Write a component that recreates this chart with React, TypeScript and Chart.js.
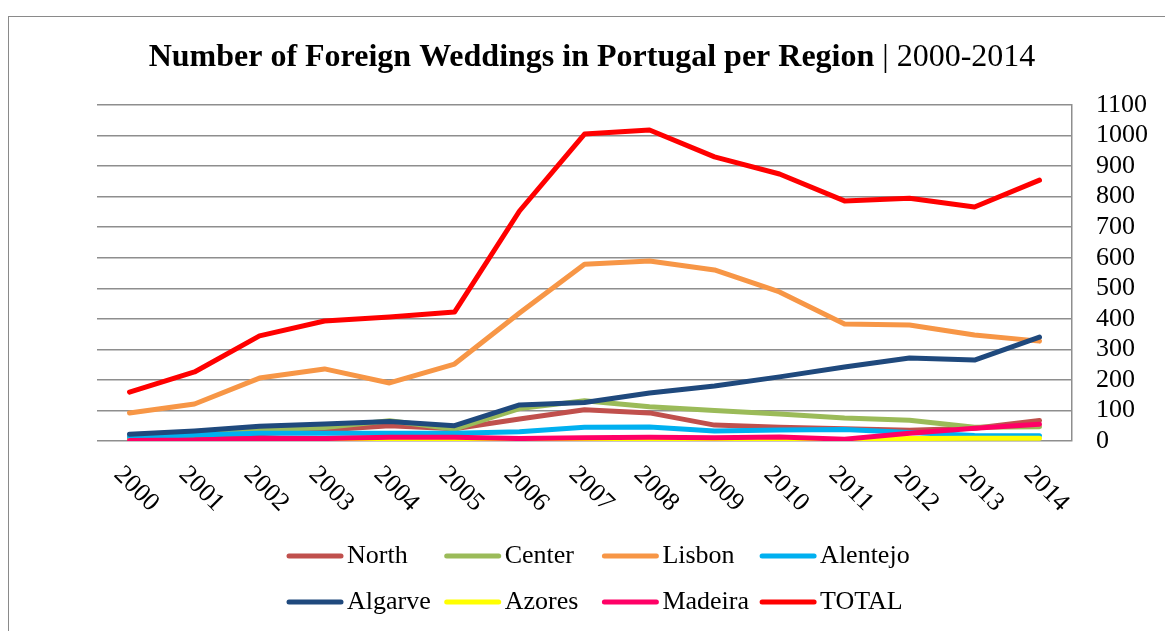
import React, { useEffect, useRef } from "react";
import { Chart, registerables } from "chart.js";

Chart.register(...registerables);

const years = ["2000","2001","2002","2003","2004","2005","2006","2007","2008","2009","2010","2011","2012","2013","2014"];
const north = [6, 12, 24, 36, 50, 40, 72, 102, 92, 52, 45, 40, 35, 42, 67];
const center = [12, 24, 36, 44, 66, 39, 106, 132, 112, 100, 88, 75, 68, 45, 47];
const lisbon = [92, 121, 206, 236, 190, 252, 419, 579, 589, 560, 488, 383, 380, 347, 327];
const alentejo = [13, 20, 25, 25, 25, 25, 30, 45, 46, 33, 36, 38, 28, 18, 17];
const algarve = [22, 33, 48, 56, 64, 50, 118, 126, 157, 180, 210, 242, 272, 265, 340];
const azores = [1, 1, 2, 1, 2, 2, 3, 3, 4, 2, 3, 3, 8, 9, 9];
const madeira = [2, 3, 9, 8, 12, 12, 8, 11, 12, 11, 13, 6, 25, 42, 55];
const total = [160, 226, 344, 393, 406, 422, 753, 1005, 1018, 930, 874, 786, 795, 766, 854];

const seriesNames = ["North", "Center", "Lisbon", "Alentejo", "Algarve", "Azores", "Madeira", "TOTAL"];
const seriesColors = ["#C0504D", "#9BBB59", "#F79646", "#00B0F0", "#1F497D", "#FFFF00", "#FF0066", "#FF0000"];
const seriesData = [north, center, lisbon, alentejo, algarve, azores, madeira, total];

const titleBold = "Number of Foreign Weddings in Portugal per Region";
const titleNormal = " | 2000-2014";

const FONT = "'Liberation Serif', 'Times New Roman', serif";

const overlayPlugin = {
  id: "overlay",
  afterDraw(chart: any) {
    const ctx = chart.ctx;
    ctx.save();
    ctx.fillStyle = "#000";
    // Title
    ctx.textBaseline = "alphabetic";
    ctx.font = `bold 32px ${FONT}`;
    const wb = ctx.measureText(titleBold).width;
    ctx.font = `32px ${FONT}`;
    const wn = ctx.measureText(titleNormal).width;
    const tx = 592 - (wb + wn) / 2;
    ctx.textAlign = "left";
    ctx.font = `bold 32px ${FONT}`;
    ctx.fillText(titleBold, tx, 66);
    ctx.font = `32px ${FONT}`;
    ctx.fillText(titleNormal, tx + wb, 66);

    // X labels, rotated 45deg clockwise
    const xs = chart.scales.x;
    ctx.font = `26px ${FONT}`;
    years.forEach((lab, i) => {
      const x = xs.getPixelForValue(i);
      ctx.save();
      ctx.translate(x - 16.5, 475.5);
      ctx.rotate(Math.PI / 4);
      ctx.textAlign = "left";
      ctx.textBaseline = "alphabetic";
      ctx.fillText(lab, 0, 0);
      ctx.restore();
    });

    // Legend
    chart.data.datasets.forEach((ds: any, i: number) => {
      const col = i % 4;
      const row = Math.floor(i / 4);
      const x0 = 287 + col * 157.7;
      const y = 556 + row * 46;
      ctx.strokeStyle = ds.borderColor;
      ctx.lineWidth = 5;
      ctx.lineCap = "round";
      ctx.beginPath();
      ctx.moveTo(x0 + 2, y);
      ctx.lineTo(x0 + 54, y);
      ctx.stroke();
      ctx.fillStyle = "#000";
      ctx.font = `26px ${FONT}`;
      ctx.textAlign = "left";
      ctx.textBaseline = "middle";
      ctx.fillText(ds.label, x0 + 60, y);
    });
    ctx.restore();
  },
};

export default function App() {
  const ref = useRef<HTMLCanvasElement | null>(null);
  useEffect(() => {
    if (!ref.current) return;
    const chart = new Chart(ref.current, {
      type: "line",
      data: {
        labels: years,
        datasets: seriesNames.map((name, i) => ({
          label: name,
          data: seriesData[i],
          borderColor: seriesColors[i],
          backgroundColor: seriesColors[i],
          borderWidth: 5,
          pointRadius: 0,
          tension: 0,
          borderCapStyle: "round",
          borderJoinStyle: "round",
          fill: false,
          order: seriesNames.length - i,
        })),
      },
      options: {
        animation: false,
        responsive: false,
        layout: { padding: { left: 97, top: 105, right: 0, bottom: 0 } },
        plugins: {
          legend: { display: false },
          title: { display: false },
          tooltip: { enabled: false },
        },
        scales: {
          x: {
            type: "category",
            offset: true,
            grid: { display: false },
            border: { display: false },
            ticks: { display: false },
            afterFit: (s: any) => { s.height = 190; },
          },
          y: {
            position: "right",
            min: 0,
            max: 1100,
            ticks: {
              stepSize: 100,
              autoSkip: false,
              padding: 24,
              color: "#000",
              font: { family: FONT, size: 26 },
              callback: (v: any) => String(v),
            },
            grid: { color: "#8e8e8e", lineWidth: 1.5, drawTicks: false },
            border: { display: true, color: "#8e8e8e", width: 1.5 },
            afterFit: (s: any) => { s.width = 93; },
          },
        },
      },
      plugins: [overlayPlugin],
    });
    return () => chart.destroy();
  }, []);
  return (
    <div style={{ position: "absolute", left: 0, top: 0, width: 1165, height: 631, overflow: "hidden", background: "#fff" }}>
      <div style={{ position: "absolute", left: 8, top: 16, width: 1300, height: 800, borderLeft: "1.5px solid #8a8a8a", borderTop: "1.5px solid #8a8a8a" }} />
      <canvas ref={ref} width={1165} height={631} style={{ position: "absolute", left: 0, top: 0 }} />
    </div>
  );
}
